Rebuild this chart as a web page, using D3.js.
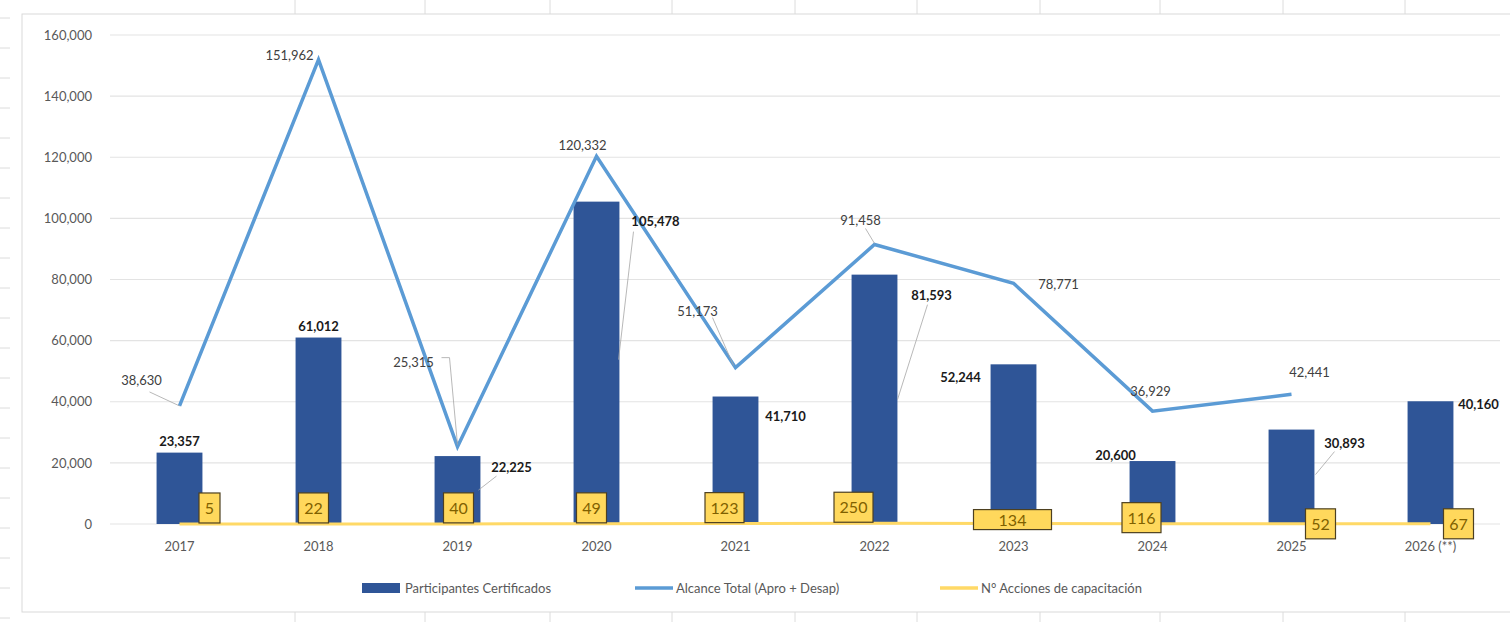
<!DOCTYPE html>
<html>
<head>
<meta charset="utf-8">
<script src="https://cdn.jsdelivr.net/npm/d3@7"></script>
<style>
  body { margin: 0; background: #fff; }
  svg text { font-family: Lato, "Open Sans", sans-serif; }
</style>
</head>
<body>
<div id="chart"></div>
<script>
var years = ["2017", "2018", "2019", "2020", "2021", "2022", "2023", "2024", "2025", "2026 (**)"];
var certificados = [23357, 61012, 22225, 105478, 41710, 81593, 52244, 20600, 30893, 40160];
var alcance = [38630, 151962, 25315, 120332, 51173, 91458, 78771, 36929, 42441, null];
var acciones = [5, 22, 40, 49, 123, 250, 134, 116, 52, 67];
var yTicks = [0, 20000, 40000, 60000, 80000, 100000, 120000, 140000, 160000];
var legendNames = ["Participantes Certificados", "Alcance Total (Apro + Desap)", "N° Acciones de capacitación"];

// label offsets (layout only), relative to the data point
var barLabelOff = [[0,-7],[0,-7],[54,16],[59,24],[50,24],[57,25],[-53,18],[-37,-1],[53,18],[48,8]];
var lineLabelOff = [[-38,-21],[-29,0],[-44,-80],[-14,-6],[-38,-52],[-14,-19],[45,6],[-2,-15],[18,-17]];
var boxOff = [[30,-16],[-5,-16],[1,-16],[-5,-16],[-11,-16],[-21,-16],[-1,-4],[-11,-6],[29,0],[28,0]];
// leader lines: polyline points [dx, dy, ...] relative to the data point
var barLeaders = {2: [39,20,21,34], 3: [37,30,22,158], 5: [53,30,23,125], 8: [43,22,24,45]};
var lineLeaders = {0: [-30,-14,0,0], 2: [-16,-89,-8,-89,0,-2], 4: [-23,-50,-2,-2], 5: [-9,-16,0,-1]};

var W = 1510, H = 622;
var fmt = d3.format(",");
var blue = "#2f5597", lineBlue = "#5b9bd5", yellow = "#ffd966";

var svg = d3.select("#chart").append("svg")
    .attr("width", W).attr("height", H);

// spreadsheet background strokes
var colX = [295, 425, 550, 672, 795, 917, 1040, 1160, 1283, 1405];
svg.selectAll(".col").data(colX).enter().append("line")
    .attr("x1", d => d).attr("x2", d => d).attr("y1", 0).attr("y2", 14)
    .attr("stroke", "#dcdcdc");
svg.selectAll(".colb").data(colX).enter().append("line")
    .attr("x1", d => d).attr("x2", d => d).attr("y1", 612).attr("y2", H)
    .attr("stroke", "#dcdcdc");
svg.selectAll(".row").data(d3.range(18, 622, 30)).enter().append("line")
    .attr("x1", 0).attr("x2", 10).attr("y1", d => d).attr("y2", d => d)
    .attr("stroke", "#dcdcdc");
svg.append("rect").attr("x", 22).attr("y", 14).attr("width", W).attr("height", 598)
    .attr("fill", "#fff").attr("stroke", "#d9d9d9");

var x = d3.scaleBand().domain(years).range([110, 1500])
    .paddingInner(0.67).paddingOuter(0.335);
var y = d3.scaleLinear().domain([0, 160000]).range([524, 35]);
var cx = i => x(years[i]) + x.bandwidth() / 2;

// gridlines + y labels
svg.append("g").selectAll("line").data(yTicks).enter().append("line")
    .attr("x1", 110).attr("x2", 1500)
    .attr("y1", d => y(d)).attr("y2", d => y(d))
    .attr("stroke", "#e3e3e3").attr("stroke-width", 1.2);

var yAxis = d3.axisLeft(y).tickValues(yTicks).tickFormat(fmt).tickSize(0).tickPadding(0);
var ga = svg.append("g").attr("transform", "translate(92,0)").call(yAxis);
ga.select(".domain").remove();
ga.selectAll("text").attr("fill", "#595959").style("font-size", "13px");

var xAxis = d3.axisBottom(x).tickSize(0).tickPadding(0);
var gx = svg.append("g").attr("transform", "translate(0,542)").call(xAxis);
gx.select(".domain").remove();
gx.selectAll("text").attr("fill", "#595959").style("font-size", "13px");

// bars
svg.selectAll(".bar").data(certificados).enter().append("rect")
    .attr("x", (d, i) => x(years[i])).attr("width", x.bandwidth())
    .attr("y", d => y(d)).attr("height", d => y(0) - y(d))
    .attr("fill", blue);

// yellow line
var lineFn = d3.line().defined(d => d != null).x((d, i) => cx(i)).y(d => y(d));
svg.append("path").datum(acciones).attr("d", lineFn)
    .attr("fill", "none").attr("stroke", yellow).attr("stroke-width", 3);

// blue line
svg.append("path").datum(alcance).attr("d", lineFn)
    .attr("fill", "none").attr("stroke", lineBlue).attr("stroke-width", 3.5)
    .attr("stroke-linejoin", "miter");

function leader(px, py, l) {
  var pts = [];
  for (var k = 0; k < l.length; k += 2) pts.push([px + l[k], py + l[k + 1]]);
  svg.append("path").attr("d", d3.line()(pts))
      .attr("fill", "none").attr("stroke", "#a6a6a6").attr("stroke-width", 0.8);
}

// line labels
alcance.forEach(function (v, i) {
  if (v == null) return;
  var px = cx(i), py = y(v), o = lineLabelOff[i];
  if (lineLeaders[i]) leader(px, py, lineLeaders[i]);
  svg.append("text").attr("x", px + o[0]).attr("y", py + o[1]).attr("text-anchor", "middle")
      .attr("fill", "#404040").style("font-size", "13px").text(fmt(v));
});
// bar labels
certificados.forEach(function (v, i) {
  var px = cx(i), py = y(v), o = barLabelOff[i];
  if (barLeaders[i]) leader(px, py, barLeaders[i]);
  svg.append("text").attr("x", px + o[0]).attr("y", py + o[1]).attr("text-anchor", "middle")
      .attr("fill", "#1a1a1a").style("font-size", "13px").style("font-weight", "bold")
      .text(fmt(v));
});

// yellow data label boxes
acciones.forEach(function (v, i) {
  var px = cx(i), py = y(v), o = boxOff[i];
  var bx = px + o[0], by = py + o[1];
  var w = String(v).length * 9 + 12, h = 30;
  if (i === 6) { w = 78; h = 20; }
  svg.append("rect").attr("x", bx - w / 2).attr("y", by - h / 2)
      .attr("width", w).attr("height", h)
      .attr("fill", "#ffd85c").attr("stroke", "#4d4020").attr("stroke-width", 1.2);
  svg.append("text").attr("x", bx).attr("y", by + 6).attr("text-anchor", "middle")
      .attr("fill", "#7f6000").style("font-size", "16px").text(v);
});

// legend
var lg = svg.append("g").attr("transform", "translate(0,588)");
lg.append("rect").attr("x", 362).attr("y", -5).attr("width", 38).attr("height", 10).attr("fill", blue);
lg.append("line").attr("x1", 635).attr("x2", 673).attr("y1", 0).attr("y2", 0)
    .attr("stroke", lineBlue).attr("stroke-width", 3.5);
lg.append("line").attr("x1", 940).attr("x2", 978).attr("y1", 0).attr("y2", 0)
    .attr("stroke", yellow).attr("stroke-width", 3.5);
[405, 676, 981].forEach(function (lx, i) {
  lg.append("text").attr("x", lx).attr("y", 5).attr("fill", "#595959")
      .style("font-size", "13px").text(legendNames[i]);
});
</script>
</body>
</html>
